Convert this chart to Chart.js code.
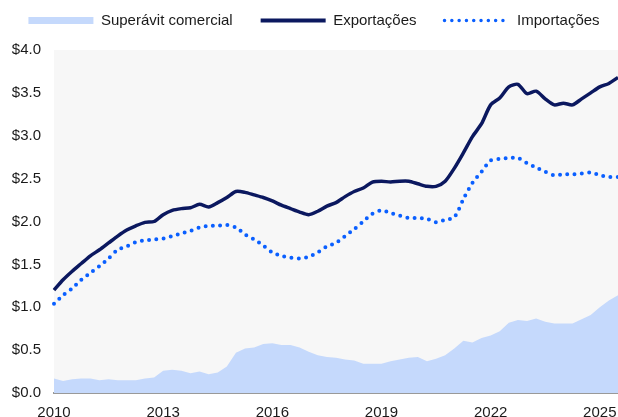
<!DOCTYPE html>
<html>
<head>
<meta charset="utf-8">
<script src="https://cdn.jsdelivr.net/npm/chart.js@4.4.1/dist/chart.umd.min.js"></script>
<style>
  html, body { margin: 0; padding: 0; background: #ffffff; }
  #wrap { width: 618px; height: 417px; position: relative; }
</style>
</head>
<body>
<div id="wrap"><canvas id="tradeChart"></canvas></div>
<script>
// ===== DATA (USD trillions, quarterly) =====
const quarters = [
  '2010T1','2010T2','2010T3','2010T4','2011T1','2011T2','2011T3','2011T4',
  '2012T1','2012T2','2012T3','2012T4','2013T1','2013T2','2013T3','2013T4',
  '2014T1','2014T2','2014T3','2014T4','2015T1','2015T2','2015T3','2015T4',
  '2016T1','2016T2','2016T3','2016T4','2017T1','2017T2','2017T3','2017T4',
  '2018T1','2018T2','2018T3','2018T4','2019T1','2019T2','2019T3','2019T4',
  '2020T1','2020T2','2020T3','2020T4','2021T1','2021T2','2021T3','2021T4',
  '2022T1','2022T2','2022T3','2022T4','2023T1','2023T2','2023T3','2023T4',
  '2024T1','2024T2','2024T3','2024T4','2025T1','2025T2','2025T3'
];

const exportacoes = [
  1.20, 1.32, 1.42, 1.51, 1.60, 1.67, 1.75, 1.83, 1.90, 1.95, 1.99, 2.00,
  2.08, 2.13, 2.15, 2.16, 2.20, 2.17, 2.22, 2.28, 2.35, 2.34, 2.31, 2.28,
  2.24, 2.19, 2.15, 2.11, 2.08, 2.12, 2.18, 2.22, 2.29, 2.35, 2.39, 2.46,
  2.47, 2.46, 2.47, 2.47, 2.44, 2.41, 2.41, 2.47, 2.62, 2.80, 2.99, 3.14,
  3.36, 3.44, 3.57, 3.60, 3.49, 3.52, 3.43, 3.36, 3.38, 3.36, 3.43, 3.50,
  3.57, 3.61, 3.68
];

const importacoes = [
  1.04, 1.14, 1.22, 1.32, 1.40, 1.48, 1.57, 1.67, 1.71, 1.76, 1.78, 1.79,
  1.80, 1.83, 1.86, 1.89, 1.93, 1.95, 1.95, 1.96, 1.93, 1.85, 1.79, 1.72,
  1.64, 1.60, 1.58, 1.57, 1.59, 1.64, 1.71, 1.75, 1.83, 1.91, 2.00, 2.09,
  2.13, 2.10, 2.07, 2.04, 2.04, 2.03, 1.99, 2.02, 2.05, 2.26, 2.45, 2.58,
  2.71, 2.73, 2.74, 2.74, 2.68, 2.63, 2.58, 2.54, 2.55, 2.55, 2.56, 2.57,
  2.54, 2.52, 2.52
];

const superavit = [
  0.17, 0.14, 0.16, 0.17, 0.17, 0.15, 0.16, 0.15, 0.15, 0.15, 0.17, 0.18,
  0.26, 0.27, 0.26, 0.23, 0.25, 0.22, 0.24, 0.31, 0.47, 0.52, 0.53, 0.57,
  0.58, 0.56, 0.56, 0.53, 0.48, 0.44, 0.42, 0.41, 0.39, 0.38, 0.34, 0.34,
  0.34, 0.37, 0.39, 0.41, 0.42, 0.37, 0.40, 0.44, 0.52, 0.61, 0.59, 0.64,
  0.67, 0.72, 0.82, 0.85, 0.84, 0.87, 0.83, 0.81, 0.81, 0.81, 0.86, 0.91,
  1.00, 1.08, 1.14
];

const yTicks = [0, 0.5, 1.0, 1.5, 2.0, 2.5, 3.0, 3.5, 4.0];
const xTickYears = ['2010', '2013', '2016', '2019', '2022', '2025'];

// ===== COLOURS =====
const NAVY = '#0b185f';
const BLUE = '#0a5fff';
const AREA = '#c5d9fc';
const PLOT_BG = '#f7f7f7';
const TEXT = '#1a1a1a';
const FONT = { family: '"Liberation Sans", Arial, sans-serif', size: 15 };

// plot background + one-row legend with fixed height
const chartHelpers = {
  id: 'chartHelpers',
  beforeUpdate(chart) {
    const lg = chart.legend;
    if (lg && !lg._fixed) {
      const fit = lg.fit;
      lg.fit = function () {
        const mw = this.maxWidth;
        this.maxWidth = mw + 60;   // keep all three items on one row
        fit.call(this);
        this.maxWidth = mw;
        this.width = mw;
        this.height = 65;
      };
      const draw = lg.draw;
      lg.draw = function () {
        // widen both sides equally: centring stays, no wrap at draw time
        this.left -= 60;
        this.right += 60;
        draw.call(this);
        this.left += 60;
        this.right -= 60;
      };
      lg._fixed = true;
    }
  },
  beforeDraw(chart) {
    const { ctx, chartArea: a } = chart;
    ctx.save();
    ctx.fillStyle = PLOT_BG;
    ctx.fillRect(a.left, a.top, a.right - a.left, a.bottom - a.top);
    ctx.restore();
  }
};

const ctx = document.getElementById('tradeChart');
new Chart(ctx, {
  type: 'line',
  data: {
    labels: quarters,
    datasets: [
      {
        label: 'Superávit comercial',
        data: superavit,
        fill: 'origin',
        backgroundColor: AREA,
        borderColor: AREA,
        borderWidth: 0,
        pointRadius: 0,
        tension: 0,
        order: 3
      },
      {
        label: 'Exportações',
        data: exportacoes,
        fill: false,
        borderColor: NAVY,
        backgroundColor: NAVY,
        borderWidth: 3.5,
        pointRadius: 0,
        tension: 0.25,
        borderJoinStyle: 'round',
        order: 1
      },
      {
        label: 'Importações',
        data: importacoes,
        fill: false,
        borderColor: BLUE,
        backgroundColor: BLUE,
        borderWidth: 4,
        borderDash: [0, 7.3],
        borderCapStyle: 'round',
        pointRadius: 0,
        tension: 0.3,
        order: 2
      }
    ]
  },
  options: {
    responsive: true,
    maintainAspectRatio: false,
    animation: false,
    layout: { padding: { top: -15, left: 10, right: 0, bottom: 0 } },
    plugins: {
      tooltip: { enabled: false },
      legend: {
        display: true,
        position: 'top',
        align: 'center',
        labels: {
          usePointStyle: true,
          pointStyleWidth: 65,
          boxHeight: 7,
          padding: 28,
          color: TEXT,
          font: FONT,
          generateLabels(chart) {
            return chart.data.datasets.map((ds, i) => {
              if (i === 0) {
                return { text: ds.label, datasetIndex: i, pointStyle: 'rect',
                  fillStyle: AREA, strokeStyle: AREA, lineWidth: 0, fontColor: TEXT };
              }
              return { text: ds.label, datasetIndex: i, pointStyle: 'line',
                fillStyle: ds.borderColor, strokeStyle: ds.borderColor,
                lineWidth: i === 1 ? 4 : 3.5,
                lineDash: i === 2 ? [0, 7.3] : [],
                lineCap: i === 2 ? 'round' : 'butt',
                fontColor: TEXT };
            });
          }
        }
      }
    },
    scales: {
      x: {
        type: 'category',
        offset: false,
        grid: { display: false, drawTicks: false },
        border: { display: true, color: '#999999', width: 2 },
        ticks: {
          autoSkip: false,
          maxRotation: 0,
          padding: 11,
          color: TEXT,
          font: FONT,
          callback(value) {
            const lab = quarters[value];
            const yr = lab.slice(0, 4);
            return (lab.endsWith('T1') && xTickYears.includes(yr)) ? yr : null;
          }
        },
        afterFit(scale) {
          scale.height = 24;
          scale.paddingLeft = 0;
          scale.paddingRight = 0;
        }
      },
      y: {
        min: 0,
        max: 4,
        grid: { display: false, drawTicks: false },
        border: { display: false },
        afterBuildTicks(scale) { scale.ticks = yTicks.map(v => ({ value: v })); },
        ticks: {
          padding: 13,
          color: TEXT,
          font: FONT,
          callback(value) { return '$' + Number(value).toFixed(1); }
        },
        afterFit(scale) { scale.width = 44; }
      }
    }
  },
  plugins: [chartHelpers]
});
</script>
</body>
</html>
